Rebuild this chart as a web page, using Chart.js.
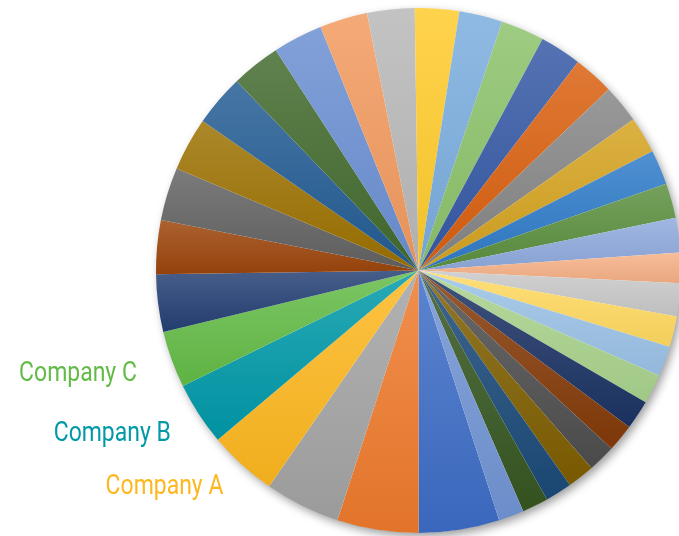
<!DOCTYPE html>
<html>
<head>
<meta charset="utf-8">
<script src="https://cdn.jsdelivr.net/npm/chart.js@4/dist/chart.umd.min.js"></script>
<style>
  html, body { margin: 0; padding: 0; background: #fff; overflow: hidden; }
  #wrap { position: absolute; left: 0; top: 0; width: 683px; height: 536px; }
</style>
</head>
<body>
<div id="wrap"><canvas id="pizza"></canvas></div>
<script>
// slices clockwise, starting from the big blue one just right of 6 o'clock
const categories = [
  "", "", "", "Company A", "Company B", "Company C", "", "", "", "",
  "", "", "", "", "", "", "", "", "", "",
  "", "", "", "", "", "", "", "", "", "",
  "", "", "", "", "", "", ""
];
const values = [
  4.97, 5.00, 4.64, 4.22, 3.89, 3.50, 3.53, 3.31, 3.28, 3.28,
  3.19, 3.03, 3.06, 2.94, 2.92, 2.72, 2.67, 2.67, 2.56, 2.50,
  2.36, 2.25, 2.14, 2.14, 2.14, 1.86, 2.03, 1.89, 1.86, 1.81,
  1.81, 1.69, 1.69, 1.67, 1.64, 1.61, 1.56
];
const colors = [
  "#3D6CC6", "#EE7A2C", "#A3A3A3", "#FDB71F", "#0099A8", "#63BB47", "#243F74", "#9C440A", "#626262", "#9C7100",
  "#235C93", "#426A2D", "#6A8FD2", "#F29A5E", "#B8B8B8", "#FFCB2B", "#7AADDE", "#8BC26A", "#3558A5", "#D95F0E",
  "#858585", "#D4A21E", "#2E7BC8", "#5B8F3E", "#8EA9DD", "#F5B085", "#C8C8C8", "#FFD95F", "#9BC2E6", "#A8D28C",
  "#1B3263", "#843A08", "#4E4E4E", "#7E5E00", "#1A4A78", "#365621", "#7194D4"
];
const startAngle = 162.1;

function mix(hex, target, t) {
  const n = parseInt(hex.slice(1), 16);
  const r = (n >> 16) & 255, g = (n >> 8) & 255, b = n & 255;
  const m = c => Math.round(c + (target - c) * t);
  return "rgb(" + m(r) + "," + m(g) + "," + m(b) + ")";
}

// vertical gradient over each slice, lighter at its top
function sliceFill(c) {
  const base = colors[c.dataIndex];
  const area = c.chart.chartArea;
  if (!area) return base;
  const cx = (area.left + area.right) / 2;
  const cy = (area.top + area.bottom) / 2;
  const r = Math.min(area.width, area.height) / 2;
  const total = values.reduce((s, v) => s + v, 0);
  let before = 0;
  for (let i = 0; i < c.dataIndex; i++) before += values[i];
  const a0 = (startAngle - 90) * Math.PI / 180 + before / total * 2 * Math.PI;
  const a1 = a0 + values[c.dataIndex] / total * 2 * Math.PI;
  let yMin = cy, yMax = cy;
  for (let k = 0; k <= 20; k++) {
    const y = cy + r * Math.sin(a0 + (a1 - a0) * k / 20);
    yMin = Math.min(yMin, y);
    yMax = Math.max(yMax, y);
  }
  const g = c.chart.ctx.createLinearGradient(0, yMin, 0, yMax);
  g.addColorStop(0, mix(base, 255, 0.16));
  g.addColorStop(1, mix(base, 0, 0.05));
  return g;
}

const sombra = {
  id: "sombra",
  beforeDatasetsDraw(chart) {
    const arc = chart.getDatasetMeta(0).data[0];
    if (!arc) return;
    const ctx = chart.ctx;
    ctx.save();
    ctx.shadowColor = "rgba(0,0,0,0.4)";
    ctx.shadowBlur = 10;
    ctx.shadowOffsetX = 3;
    ctx.shadowOffsetY = 4;
    ctx.beginPath();
    ctx.arc(arc.x, arc.y, arc.outerRadius - 0.5, 0, Math.PI * 2);
    ctx.fillStyle = "#ffffff";
    ctx.fill();
    ctx.restore();
  }
};

// outside-end labels, right aligned, pushed further out near the horizontal
const rotulos = {
  id: "rotulos",
  afterDatasetsDraw(chart) {
    const ctx = chart.ctx;
    chart.getDatasetMeta(0).data.forEach((arc, i) => {
      const txt = categories[i];
      if (!txt) return;
      const mid = (arc.startAngle + arc.endAngle) / 2;
      const d = arc.outerRadius + 4 + 35 * Math.abs(Math.cos(mid));
      const x = arc.x + Math.cos(mid) * d;
      const y = arc.y + Math.sin(mid) * d;
      ctx.save();
      ctx.translate(x, y);
      ctx.scale(0.82, 1);
      ctx.font = "28px Roboto";
      ctx.fillStyle = colors[i];
      ctx.textAlign = "right";
      ctx.textBaseline = "alphabetic";
      ctx.fillText(txt, 0, 9);
      ctx.restore();
    });
  }
};

new Chart(document.getElementById("pizza"), {
  type: "pie",
  data: {
    labels: categories,
    datasets: [{
      data: values,
      backgroundColor: sliceFill,
      borderWidth: 0,
      hoverBorderWidth: 0,
      offset: 0,
      hoverOffset: 0
    }]
  },
  options: {
    responsive: true,
    maintainAspectRatio: false,
    animation: false,
    events: [],
    rotation: startAngle,
    layout: { padding: { left: 156, top: 8, right: 2, bottom: 3 } },
    plugins: {
      legend: { display: false },
      tooltip: { enabled: false }
    }
  },
  plugins: [sombra, rotulos]
});
</script>
</body>
</html>
